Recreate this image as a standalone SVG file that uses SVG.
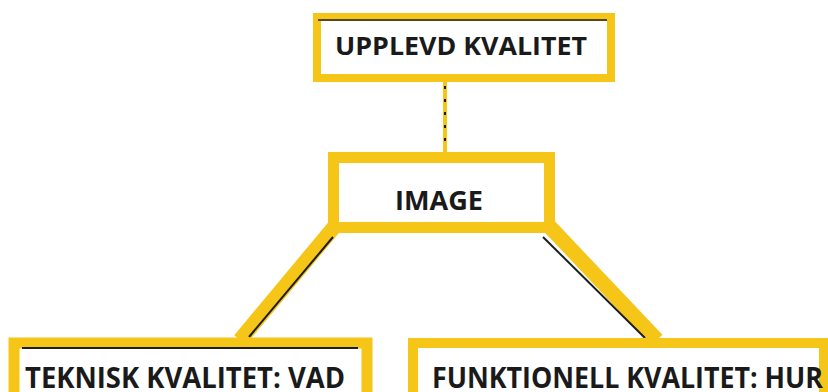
<svg xmlns="http://www.w3.org/2000/svg" width="828" height="392" viewBox="0 0 828 392">
<style>
.box{fill:#ffffff;stroke:#F5C518}
.lbl{font-family:"Open Sans","Liberation Sans",sans-serif;font-weight:bold;fill:#1a1a1a}
.conn{stroke:#F5C518;fill:none;stroke-linecap:butt}
.ink{stroke:#1e1e1e;fill:none}
</style>
<rect width="828" height="392" fill="#ffffff"/>
<g id="connectors">
<line class="conn" x1="445" y1="80" x2="445" y2="154" stroke-width="4"/>
<line class="ink" x1="445" y1="86" x2="445" y2="150" stroke-width="2" stroke-dasharray="3 10"/>
<line class="conn" x1="335" y1="226" x2="240" y2="340" stroke-width="15"/>
<line class="ink" x1="333" y1="237" x2="249" y2="337" stroke-width="2"/>
<line class="conn" x1="549" y1="226" x2="657" y2="340" stroke-width="15"/>
<line class="ink" x1="543" y1="237" x2="645" y2="338" stroke-width="2"/>
</g>
<g id="upplevd">
<rect class="box" x="317" y="17" width="294" height="61" stroke-width="8"/>
<line class="ink" x1="318" y1="20" x2="607" y2="20" stroke-width="1.5"/>
<text class="lbl" x="335" y="55" font-size="25" textLength="252" lengthAdjust="spacingAndGlyphs">UPPLEVD KVALITET</text>
</g>
<g id="image">
<rect class="box" x="333.5" y="157.5" width="216" height="70" stroke-width="11"/>
<text class="lbl" x="395" y="210" font-size="27" textLength="88" lengthAdjust="spacingAndGlyphs">IMAGE</text>
</g>
<g id="teknisk">
<rect class="box" x="14" y="343" width="353" height="80" stroke-width="11"/>
<line class="ink" x1="22" y1="348" x2="358" y2="348" stroke-width="2"/>
<text class="lbl" x="25" y="388" font-size="28" textLength="320" lengthAdjust="spacingAndGlyphs">TEKNISK KVALITET: VAD</text>
</g>
<g id="funktionell">
<rect class="box" x="413" y="343" width="411" height="80" stroke-width="10"/>
<text class="lbl" x="432" y="388" font-size="28" textLength="391" lengthAdjust="spacingAndGlyphs">FUNKTIONELL KVALITET: HUR</text>
</g>
</svg>
